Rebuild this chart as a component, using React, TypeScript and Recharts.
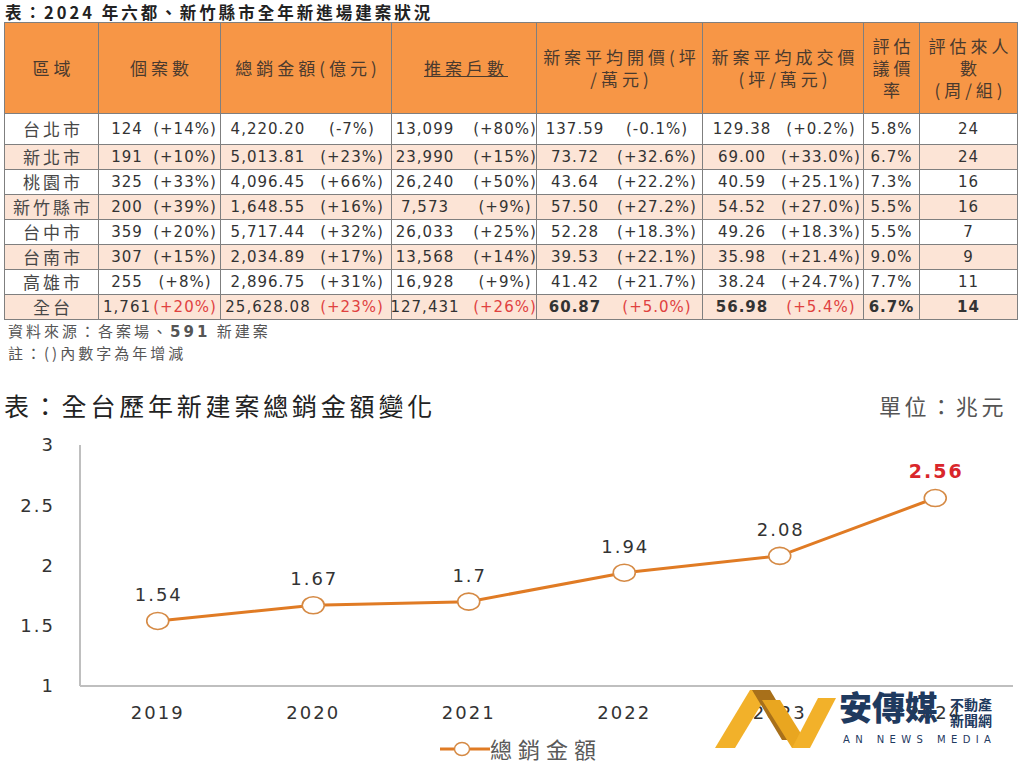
import React from 'react';
import { LineChart, Line, XAxis, YAxis, Legend, LabelList } from 'recharts';

const CJK = '"Noto Sans CJK TC", "Noto Sans CJK SC", sans-serif';
const NUM = '"DejaVu Sans", Verdana, sans-serif';

// 下方折線圖：全台歷年新建案總銷金額（兆元）
const years = ['2019', '2020', '2021', '2022', '2023', '2024'];
const totalSales = [1.54, 1.67, 1.7, 1.94, 2.08, 2.56];
const yTicks = [1, 1.5, 2, 2.5, 3];

// 上方表格
const regions = ['台北市', '新北市', '桃園市', '新竹縣市', '台中市', '台南市', '高雄市', '全台'];
const caseCounts = ['124', '191', '325', '200', '359', '307', '255', '1,761'];
const caseCountChg = ['(+14%)', '(+10%)', '(+33%)', '(+39%)', '(+20%)', '(+15%)', '(+8%)', '(+20%)'];
const salesAmounts = ['4,220.20', '5,013.81', '4,096.45', '1,648.55', '5,717.44', '2,034.89', '2,896.75', '25,628.08'];
const salesChg = ['(-7%)', '(+23%)', '(+66%)', '(+16%)', '(+32%)', '(+17%)', '(+31%)', '(+23%)'];
const units = ['13,099', '23,990', '26,240', '7,573', '26,033', '13,568', '16,928', '127,431'];
const unitsChg = ['(+80%)', '(+15%)', '(+50%)', '(+9%)', '(+25%)', '(+14%)', '(+9%)', '(+26%)'];
const askPrice = ['137.59', '73.72', '43.64', '57.50', '52.28', '39.53', '41.42', '60.87'];
const askChg = ['(-0.1%)', '(+32.6%)', '(+22.2%)', '(+27.2%)', '(+18.3%)', '(+22.1%)', '(+21.7%)', '(+5.0%)'];
const dealPrice = ['129.38', '69.00', '40.59', '54.52', '49.26', '35.98', '38.24', '56.98'];
const dealChg = ['(+0.2%)', '(+33.0%)', '(+25.1%)', '(+27.0%)', '(+18.3%)', '(+21.4%)', '(+24.7%)', '(+5.4%)'];
const discountRate = ['5.8%', '6.7%', '7.3%', '5.5%', '5.5%', '9.0%', '7.7%', '6.7%'];
const visitors = ['24', '24', '16', '16', '7', '9', '11', '14'];

const headers = [
  ['區域'],
  ['個案數'],
  ['總銷金額(億元)'],
  ['推案戶數'],
  ['新案平均開價(坪', '/萬元)'],
  ['新案平均成交價', '(坪/萬元)'],
  ['評估', '議價', '率'],
  ['評估來人', '數', '(周/組)'],
];

const colWidths = [94, 122, 171, 145, 166, 161, 56, 98];
const numCenters = [28, 47, 33, 38, 39];
const pctCenters = [86, 131, 113, 120, 118];
const rowHeights = [31, 25, 25, 25, 25, 25, 25, 25];

const ORANGE = '#F79646';
const PEACH = '#FCE4D6';
const BORDER = '1px solid #7f7f7f';
const RED = '#E0413F';

function SummaryTable() {
  const pairs = [
    [caseCounts, caseCountChg],
    [salesAmounts, salesChg],
    [units, unitsChg],
    [askPrice, askChg],
    [dealPrice, dealChg],
  ];
  const last = regions.length - 1;
  return (
    <div style={{ position: 'absolute', left: 4, top: 22, borderTop: BORDER, borderLeft: BORDER }}>
      <div style={{ display: 'flex', height: 91, background: ORANGE, borderBottom: BORDER, boxSizing: 'border-box' }}>
        {headers.map((lines, c) => (
          <div
            key={c}
            style={{
              width: colWidths[c], boxSizing: 'border-box', borderRight: BORDER,
              display: 'flex', flexDirection: 'column', alignItems: 'center', justifyContent: 'center',
              fontFamily: CJK, fontSize: 17, letterSpacing: 4, lineHeight: '22px', color: '#4a3a2e',
            }}
          >
            {lines.map((t, i) => (
              <div key={i} style={{ marginRight: -4, textDecoration: c === 3 ? 'underline' : 'none' }}>{t}</div>
            ))}
          </div>
        ))}
      </div>
      {regions.map((name, r) => {
        const isTotal = r === last;
        return (
          <div
            key={r}
            style={{
              display: 'flex', height: rowHeights[r], boxSizing: 'border-box', borderBottom: BORDER,
              background: r % 2 === 1 ? PEACH : '#fff', lineHeight: rowHeights[r] - 1 + 'px',
            }}
          >
            <div style={{ width: colWidths[0], boxSizing: 'border-box', borderRight: BORDER, textAlign: 'center', fontFamily: CJK, fontSize: 17, letterSpacing: 3, paddingLeft: 3, color: '#474747' }}>
              {name}
            </div>
            {pairs.map(([nums, pcts], p) => (
              <div key={p} style={{ width: colWidths[p + 1], boxSizing: 'border-box', borderRight: BORDER, position: 'relative', fontFamily: NUM, fontSize: 15, letterSpacing: 1, color: '#333' }}>
                <span style={{ position: 'absolute', left: numCenters[p], transform: 'translateX(-50%)', whiteSpace: 'nowrap', fontWeight: isTotal && p >= 3 ? 700 : 400 }}>
                  {nums[r]}
                </span>
                <span style={{ position: 'absolute', left: pctCenters[p], transform: 'translateX(-50%)', whiteSpace: 'nowrap', color: isTotal ? RED : '#333' }}>
                  {pcts[r]}
                </span>
              </div>
            ))}
            <div style={{ width: colWidths[6], boxSizing: 'border-box', borderRight: BORDER, textAlign: 'center', fontFamily: NUM, fontSize: 15, letterSpacing: 1, color: '#333', fontWeight: isTotal ? 700 : 400 }}>
              {discountRate[r]}
            </div>
            <div style={{ width: colWidths[7], boxSizing: 'border-box', borderRight: BORDER, textAlign: 'center', fontFamily: NUM, fontSize: 15, letterSpacing: 1, color: '#333', fontWeight: isTotal ? 700 : 400 }}>
              {visitors[r]}
            </div>
          </div>
        );
      })}
    </div>
  );
}

function Logo() {
  return (
    <div style={{ position: 'absolute', left: 700, top: 680, width: 324, height: 80 }}>
      <svg width={324} height={80} style={{ position: 'absolute', left: 0, top: 0 }}>
        <polygon points="15,68 35,68 70,10 50,10" fill="#F2B12A" />
        <polygon points="52,10 70,10 100,60 82,60" fill="#A8701A" />
        <polygon points="62,20 80,20 110,68 92,68" fill="#E9A620" />
        <polygon points="92,68 110,68 136,18 118,18" fill="#F2B12A" />
      </svg>
      <div style={{ position: 'absolute', left: 139, top: 7, fontFamily: CJK, fontWeight: 900, fontSize: 33, color: '#1F3A5F', lineHeight: '38px', whiteSpace: 'nowrap' }}>
        安傳媒
      </div>
      <div style={{ position: 'absolute', left: 250, top: 16, fontFamily: CJK, fontWeight: 700, fontSize: 14, lineHeight: '16px', color: '#1F3A5F', whiteSpace: 'nowrap' }}>
        <div>不動產</div>
        <div>新聞網</div>
      </div>
      <div style={{ position: 'absolute', left: 143, top: 54, fontFamily: NUM, fontSize: 10, letterSpacing: 5.4, color: '#1F3A5F', whiteSpace: 'nowrap' }}>
        AN NEWS MEDIA
      </div>
    </div>
  );
}

const renderDot = (props: any) => {
  const { cx, cy, index } = props;
  return <ellipse key={'dot-' + index} cx={cx} cy={cy} rx={11} ry={8.5} fill="#fff" stroke="#D58A45" strokeWidth={1.6} />;
};

const renderLabel = (props: any) => {
  const vb = props.viewBox || {};
  const x = props.x ?? vb.x;
  const y = props.y ?? vb.y;
  const isLast = props.index === years.length - 1;
  return (
    <text
      x={x + 1}
      y={y - 20}
      textAnchor="middle"
      fontFamily={NUM}
      fontSize={isLast ? 19 : 18}
      fontWeight={isLast ? 700 : 400}
      letterSpacing={2}
      fill={isLast ? '#D9262B' : '#333'}
    >
      {props.value}
    </text>
  );
};

const renderLegend = () => (
  <div style={{ position: 'relative', width: '100%', height: 42 }}>
    <svg width={56} height={20} style={{ position: 'absolute', left: 438, top: 13 }}>
      <line x1={2} y1={10} x2={52} y2={10} stroke="#E07B24" strokeWidth={3} />
      <ellipse cx={24} cy={10} rx={7.5} ry={6.5} fill="#fff" stroke="#D58A45" strokeWidth={1.4} />
    </svg>
    <div style={{ position: 'absolute', left: 490, top: 6, fontFamily: CJK, fontSize: 22, letterSpacing: 6, color: '#595959', lineHeight: '32px', whiteSpace: 'nowrap' }}>
      總銷金額
    </div>
  </div>
);

export default function App() {
  const chartData = years.map((y, i) => ({ year: y, value: totalSales[i] }));
  const tickStyle = { fill: '#333', fontSize: 18, fontFamily: NUM, letterSpacing: 2 };
  return (
    <div style={{ position: 'absolute', left: 0, top: 0, width: 1024, height: 768, background: '#fff', overflow: 'hidden' }}>
      <div style={{ position: 'absolute', left: 5, top: 3, fontFamily: CJK, fontWeight: 700, fontSize: 16.5, letterSpacing: 3, color: '#222', lineHeight: '19px', whiteSpace: 'nowrap' }}>
        表：2024 年六都、新竹縣市全年新進場建案狀況
      </div>
      <SummaryTable />
      <div style={{ position: 'absolute', left: 8, top: 320, fontFamily: CJK, fontSize: 15, letterSpacing: 3, color: '#555', lineHeight: '22px', whiteSpace: 'nowrap' }}>
        資料來源：各案場、<b style={{ fontFamily: NUM }}>591</b> 新建案
      </div>
      <div style={{ position: 'absolute', left: 8, top: 342, fontFamily: CJK, fontSize: 15, letterSpacing: 3, color: '#555', lineHeight: '22px', whiteSpace: 'nowrap' }}>
        註：()內數字為年增減
      </div>
      <div style={{ position: 'absolute', left: 4, top: 389, fontFamily: CJK, fontSize: 25, letterSpacing: 3.8, color: '#222', lineHeight: '32px', whiteSpace: 'nowrap' }}>
        表：全台歷年新建案總銷金額變化
      </div>
      <div style={{ position: 'absolute', left: 879, top: 390, fontFamily: CJK, fontSize: 22, letterSpacing: 3.6, color: '#555', lineHeight: '30px', whiteSpace: 'nowrap' }}>
        單位：兆元
      </div>
      <div style={{ position: 'absolute', left: 0, top: 380 }}>
        <LineChart width={1024} height={388} data={chartData} margin={{ top: 65, right: 11, left: 0, bottom: 0 }}>
          <XAxis
            dataKey="year"
            padding={{ left: 77.75, right: 77.75 }}
            axisLine={{ stroke: '#BFBFBF', strokeWidth: 2 }}
            tickLine={false}
            tickSize={0}
            tickMargin={20}
            height={40}
            interval={0}
            tick={tickStyle}
          />
          <YAxis
            domain={[1, 3]}
            ticks={yTicks}
            width={80}
            axisLine={{ stroke: '#BFBFBF', strokeWidth: 2 }}
            tickLine={false}
            tickSize={0}
            tickMargin={25}
            tick={tickStyle}
          />
          <Legend verticalAlign="bottom" content={renderLegend} />
          <Line
            dataKey="value"
            name="總銷金額"
            stroke="#E07B24"
            strokeWidth={3}
            dot={renderDot}
            activeDot={false}
            isAnimationActive={false}
          >
            <LabelList dataKey="value" content={renderLabel} />
          </Line>
        </LineChart>
      </div>
      <Logo />
    </div>
  );
}
